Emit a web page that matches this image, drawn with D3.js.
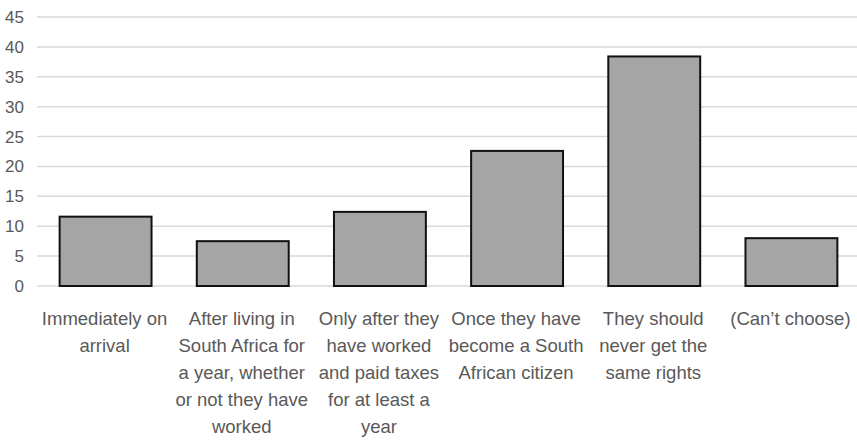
<!DOCTYPE html>
<html>
<head>
<meta charset="utf-8">
<script src="https://d3js.org/d3.v7.min.js"></script>
<style>
  body { margin: 0; background: #fff; }
  text { font-family: "Liberation Sans", Arial, sans-serif; fill: #595959; }
</style>
</head>
<body>
<div id="chart"></div>
<script>
// categories (each split into the lines shown under the axis)
var categories = [
  ["Immediately on", "arrival"],
  ["After living in", "South Africa for", "a year, whether", "or not they have", "worked"],
  ["Only after they", "have worked", "and paid taxes", "for at least a", "year"],
  ["Once they have", "become a South", "African citizen"],
  ["They should", "never get the", "same rights"],
  ["(Can\u2019t choose)"]
];
var values = [11.6, 7.5, 12.4, 22.6, 38.4, 8.0];
var yTicks = [0, 5, 10, 15, 20, 25, 30, 35, 40, 45];

var width = 857, height = 443;
var margin = {top: 17, right: -3, bottom: 157, left: 37};

var svg = d3.select("#chart").append("svg")
    .attr("width", width)
    .attr("height", height);

var x = d3.scaleBand()
    .domain(d3.range(categories.length))
    .range([margin.left, width - margin.right])
    .paddingInner(0.33)
    .paddingOuter(0.165);

var y = d3.scaleLinear()
    .domain([0, 45])
    .range([height - margin.bottom, margin.top]);

// gridlines
svg.append("g")
  .selectAll("line")
  .data(yTicks)
  .enter().append("line")
    .attr("x1", margin.left)
    .attr("x2", width)
    .attr("y1", function(d) { return y(d); })
    .attr("y2", function(d) { return y(d); })
    .attr("stroke", "#d9d9d9")
    .attr("stroke-width", 1.5);

// y tick labels
svg.append("g")
  .selectAll("text")
  .data(yTicks)
  .enter().append("text")
    .attr("x", 24)
    .attr("y", function(d) { return y(d); })
    .attr("dy", "0.35em")
    .attr("text-anchor", "end")
    .style("font-size", "17px")
    .text(function(d) { return d; });

// bars
svg.append("g")
  .selectAll("rect")
  .data(values)
  .enter().append("rect")
    .attr("x", function(d, i) { return x(i); })
    .attr("y", function(d) { return y(d); })
    .attr("width", x.bandwidth())
    .attr("height", function(d) { return y(0) - y(d); })
    .attr("fill", "#a5a5a5")
    .attr("stroke", "#111")
    .attr("stroke-width", 2);

// category labels
var lab = svg.append("g")
  .selectAll("text")
  .data(categories)
  .enter().append("text")
    .attr("text-anchor", "middle")
    .style("font-size", "18.5px")
    .attr("transform", function(d, i) {
      return "translate(" + (x(i) + x.bandwidth() / 2 - 1) + "," + (y(0) + 39) + ")";
    });

lab.selectAll("tspan")
  .data(function(d) { return d; })
  .enter().append("tspan")
    .attr("x", 0)
    .attr("y", function(d, j) { return j * 27; })
    .text(function(d) { return d; });
</script>
</body>
</html>
